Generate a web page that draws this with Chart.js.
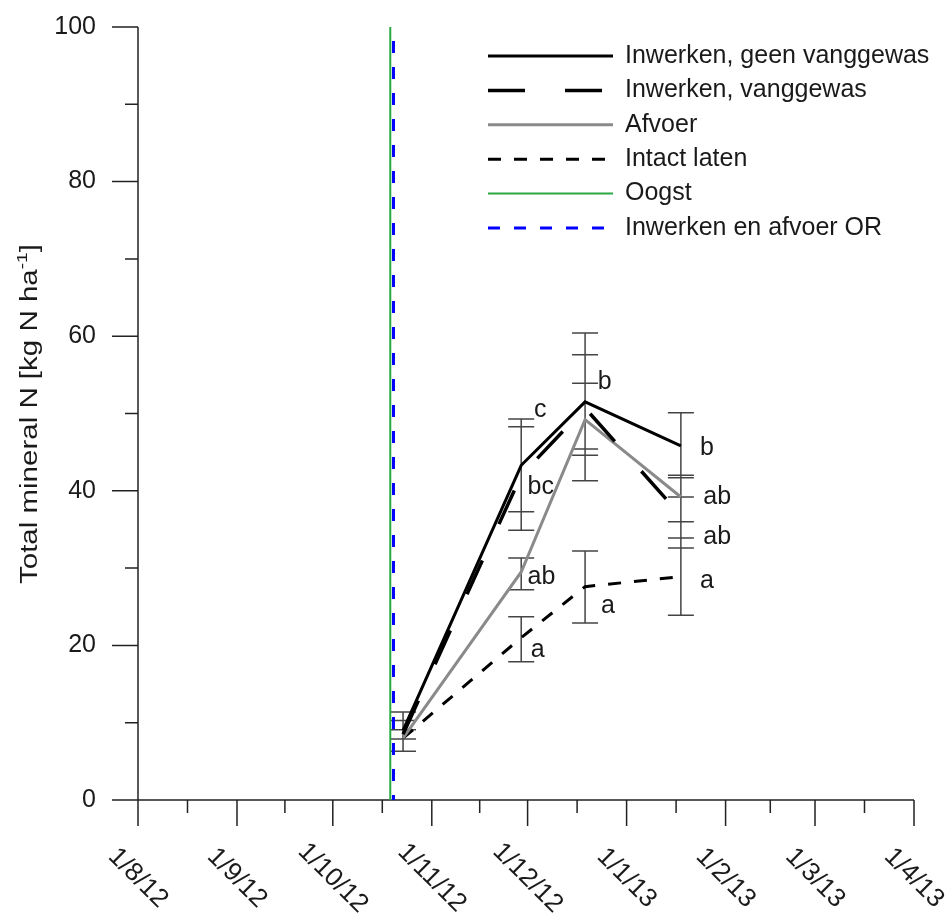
<!DOCTYPE html>
<html>
<head>
<meta charset="utf-8">
<script src="https://cdn.jsdelivr.net/npm/chart.js@4.4.0/dist/chart.umd.min.js"></script>
<style>
  html, body { margin: 0; padding: 0; background: #fff; }
</style>
</head>
<body>
<canvas id="nChart" width="946" height="923"></canvas>
<script>
// months on the time axis and their labels
const monthTicks = ['2012-08-01', '2012-09-01', '2012-10-01', '2012-11-01', '2012-12-01',
  '2013-01-01', '2013-02-01', '2013-03-01', '2013-04-01'];
const monthLabels = ['1/8/12', '1/9/12', '1/10/12', '1/11/12', '1/12/12', '1/1/13', '1/2/13', '1/3/13', '1/4/13'];
const yTicks = [0, 20, 40, 60, 80, 100];

// sampling dates
const sampleDates = ['2012-10-23', '2012-11-29', '2012-12-19', '2013-01-18'];

const seriesNames = ['Inwerken, geen vanggewas', 'Inwerken, vanggewas', 'Afvoer', 'Intact laten', 'Oogst', 'Inwerken en afvoer OR'];

// total mineral N (kg N/ha) and error bar ranges [low, high]
const geenVanggewas = [9.0, 43.3, 51.5, 45.8];
const geenVanggewasErr = [[6.3, 11.4], [37.3, 49.3], [44.6, 57.6], [41.7, 50.1]];
const vanggewas = [8.5, 42.0, 50.7, 36.8];
const vanggewasErr = [[7.9, 10.3], [34.9, 48.3], [41.3, 60.4], [32.6, 39.2]];
const afvoer = [8.0, 29.5, 49.2, 39.2];
const afvoerErr = [[7.9, 9.1], [27.2, 31.3], [45.4, 53.9], [36.0, 42.0]];
const intactLaten = [8.0, 21.0, 27.6, 28.9];
const intactLatenErr = [[6.3, 9.1], [17.9, 23.7], [22.9, 32.2], [23.9, 33.9]];

// harvest and crop residue dates (vertical markers)
const oogstDate = '2012-10-19';
const orDate = '2012-10-20';
const markerRange = [0, 100];
const orRange = [98.2, 0];

// significance letters: text, date, value
const letterText = ['c', 'bc', 'ab', 'a', 'b', 'a', 'b', 'ab', 'ab', 'a'];
const letterDates = ['2012-12-03', '2012-12-01', '2012-12-01', '2012-12-02', '2012-12-23',
  '2012-12-24', '2013-01-24', '2013-01-25', '2013-01-25', '2013-01-24'];
const letterValues = [50.5, 40.5, 28.8, 19.4, 54.1, 25.1, 45.5, 39.2, 34.0, 28.3];

const FONT = '"Liberation Sans", Arial, sans-serif';
const TEXT = '#1a1a1a';

function day(s) {
  return Date.parse(s + 'T00:00:00Z');
}

function points(values) {
  return values.map((v, i) => ({ x: day(sampleDates[i]), y: v }));
}

const styles = [
  { color: '#000000', width: 3, dash: [] },
  { color: '#000000', width: 3.5, dash: [37, 40] },
  { color: '#8a8a8a', width: 3, dash: [] },
  { color: '#000000', width: 3, dash: [13, 13] },
  { color: '#2aa842', width: 2, dash: [] },
  { color: '#0000ff', width: 3, dash: [12, 14] }
];

const errorSets = [geenVanggewasErr, vanggewasErr, afvoerErr, intactLatenErr];

// axes, ticks and tick labels drawn off the chart's own scales
const axesPlugin = {
  id: 'axes',
  beforeDatasetsDraw(chart) {
    const ctx = chart.ctx;
    const xs = chart.scales.x, ys = chart.scales.y;
    const x0 = xs.getPixelForValue(day(monthTicks[0]));
    const y0 = ys.getPixelForValue(0);
    ctx.save();
    ctx.strokeStyle = '#222';
    ctx.lineWidth = 1.5;
    ctx.beginPath();
    ctx.moveTo(x0 - 26, y0);
    ctx.lineTo(xs.getPixelForValue(day(monthTicks[monthTicks.length - 1])), y0);
    ctx.moveTo(x0, y0);
    ctx.lineTo(x0, ys.getPixelForValue(100));
    monthTicks.forEach((d, i) => {
      const px = xs.getPixelForValue(day(d));
      ctx.moveTo(px, y0);
      ctx.lineTo(px, y0 + 26);
      if (i < monthTicks.length - 1) {
        const mx = xs.getPixelForValue((day(d) + day(monthTicks[i + 1])) / 2);
        ctx.moveTo(mx, y0);
        ctx.lineTo(mx, y0 + 13);
      }
    });
    yTicks.forEach((v, i) => {
      const py = ys.getPixelForValue(v);
      ctx.moveTo(x0 - 26, py);
      ctx.lineTo(x0, py);
      if (i < yTicks.length - 1) {
        const my = ys.getPixelForValue((v + yTicks[i + 1]) / 2);
        ctx.moveTo(x0 - 13, my);
        ctx.lineTo(x0, my);
      }
    });
    ctx.stroke();

    ctx.fillStyle = TEXT;
    ctx.font = '25px ' + FONT;
    ctx.textAlign = 'right';
    ctx.textBaseline = 'middle';
    yTicks.forEach(v => ctx.fillText(String(v), x0 - 42, ys.getPixelForValue(v)));

    ctx.font = '26px ' + FONT;
    ctx.textAlign = 'center';
    monthTicks.forEach((d, i) => {
      ctx.save();
      ctx.translate(xs.getPixelForValue(day(d)), y0 + 78);
      ctx.rotate(Math.PI / 4);
      ctx.fillText(monthLabels[i], 0, 0);
      ctx.restore();
    });

    // y axis title with superscript
    const main = 'Total mineral N [kg N ha';
    ctx.font = '23px ' + FONT;
    const wMain = ctx.measureText(main).width;
    const wEnd = ctx.measureText(']').width;
    ctx.font = '15px ' + FONT;
    const wSup = ctx.measureText('-1').width;
    const total = wMain + wSup + wEnd;
    const stretch = 340 / total;
    ctx.translate(37, 414);
    ctx.rotate(-Math.PI / 2);
    ctx.scale(stretch, 1);
    ctx.textAlign = 'left';
    ctx.textBaseline = 'alphabetic';
    let tx = -total / 2;
    ctx.font = '23px ' + FONT;
    ctx.fillText(main, tx, 0);
    tx += wMain;
    ctx.font = '15px ' + FONT;
    ctx.fillText('-1', tx, -10);
    tx += wSup;
    ctx.font = '23px ' + FONT;
    ctx.fillText(']', tx, 0);
    ctx.restore();

    // error bars
    ctx.save();
    ctx.strokeStyle = '#444';
    ctx.lineWidth = 1.5;
    ctx.beginPath();
    errorSets.forEach(set => {
      set.forEach((r, i) => {
        const px = xs.getPixelForValue(day(sampleDates[i]));
        const lo = ys.getPixelForValue(r[0]);
        const hi = ys.getPixelForValue(r[1]);
        ctx.moveTo(px, lo);
        ctx.lineTo(px, hi);
        ctx.moveTo(px - 13, lo);
        ctx.lineTo(px + 13, lo);
        ctx.moveTo(px - 13, hi);
        ctx.lineTo(px + 13, hi);
      });
    });
    ctx.stroke();
    ctx.restore();
  },
  afterDatasetsDraw(chart) {
    const ctx = chart.ctx;
    const xs = chart.scales.x, ys = chart.scales.y;
    ctx.save();
    ctx.fillStyle = TEXT;
    ctx.font = '25px ' + FONT;
    ctx.textAlign = 'left';
    ctx.textBaseline = 'middle';
    letterText.forEach((t, i) => {
      ctx.fillText(t, xs.getPixelForValue(day(letterDates[i])), ys.getPixelForValue(letterValues[i]));
    });

    // legend
    seriesNames.forEach((name, i) => {
      const st = styles[i];
      const ly = 56 + i * 34.4;
      ctx.strokeStyle = st.color;
      ctx.lineWidth = st.width;
      ctx.setLineDash(st.dash);
      ctx.beginPath();
      ctx.moveTo(488, ly);
      ctx.lineTo(613, ly);
      ctx.stroke();
      ctx.setLineDash([]);
      ctx.fillText(name, 625, ly);
    });
    ctx.restore();
  }
};

const seriesValues = [geenVanggewas, vanggewas, afvoer, intactLaten];
const datasets = seriesValues.map((vals, i) => ({
  label: seriesNames[i],
  data: points(vals),
  borderColor: styles[i].color,
  borderWidth: styles[i].width,
  borderDash: styles[i].dash,
  borderJoinStyle: 'miter',
  pointRadius: 0,
  fill: false,
  tension: 0
}));
datasets.unshift({
  label: seriesNames[4],
  data: markerRange.map(v => ({ x: day(oogstDate), y: v })),
  borderColor: styles[4].color,
  borderWidth: styles[4].width,
  pointRadius: 0
}, {
  label: seriesNames[5],
  data: orRange.map(v => ({ x: day(orDate), y: v })),
  borderColor: styles[5].color,
  borderWidth: styles[5].width,
  borderDash: styles[5].dash,
  pointRadius: 0
});

new Chart(document.getElementById('nChart'), {
  type: 'line',
  data: { datasets },
  options: {
    responsive: false,
    animation: false,
    devicePixelRatio: 1,
    layout: { padding: { left: 138, right: 32, top: 27, bottom: 123 } },
    plugins: { legend: { display: false }, tooltip: { enabled: false } },
    scales: {
      x: {
        type: 'linear',
        display: false,
        min: day(monthTicks[0]),
        max: day(monthTicks[monthTicks.length - 1])
      },
      y: {
        type: 'linear',
        display: false,
        min: 0,
        max: 100
      }
    }
  },
  plugins: [axesPlugin]
});
</script>
</body>
</html>
